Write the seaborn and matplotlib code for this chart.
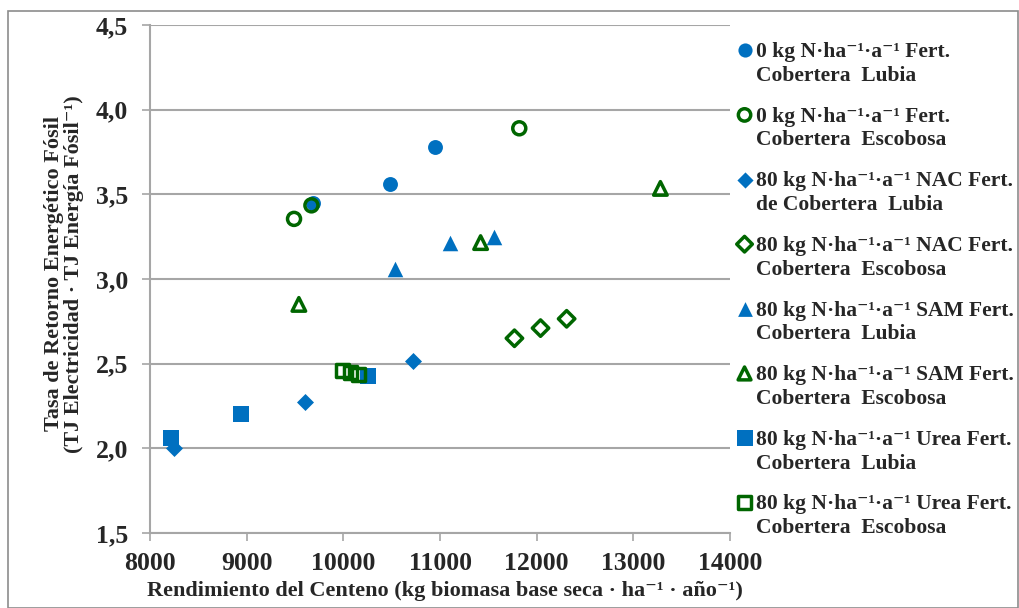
import matplotlib
matplotlib.use("Agg")
import matplotlib.pyplot as plt
import matplotlib.ticker as mticker
from matplotlib.patches import Rectangle
from matplotlib.collections import PathCollection
from matplotlib.legend_handler import HandlerPathCollection
import seaborn as sns
import pandas as pd

# data
x_0_lubia = [9690, 10480, 10950]
y_0_lubia = [3.45, 3.56, 3.78]
x_0_esco = [9490, 9670, 11820]
y_0_esco = [3.355, 3.435, 3.89]
x_nac_lubia = [8250, 9600, 10720]
y_nac_lubia = [2.00, 2.275, 2.515]
x_nac_esco = [11770, 12040, 12310]
y_nac_esco = [2.65, 2.71, 2.765]
x_sam_lubia = [10530, 11100, 11560]
y_sam_lubia = [3.06, 3.21, 3.25]
x_sam_esco = [9540, 11420, 13280]
y_sam_esco = [2.85, 3.215, 3.535]
x_urea_lubia = [8220, 8940, 10260]
y_urea_lubia = [2.06, 2.20, 2.43]
x_urea_esco = [9990, 10070, 10160]
y_urea_esco = [2.46, 2.45, 2.435]

labels = [
    "0 kg N·ha⁻¹·a⁻¹ Fert.\nCobertera  Lubia",
    "0 kg N·ha⁻¹·a⁻¹ Fert.\nCobertera  Escobosa",
    "80 kg N·ha⁻¹·a⁻¹ NAC Fert.\nde Cobertera  Lubia",
    "80 kg N·ha⁻¹·a⁻¹ NAC Fert.\nCobertera  Escobosa",
    "80 kg N·ha⁻¹·a⁻¹ SAM Fert.\nCobertera  Lubia",
    "80 kg N·ha⁻¹·a⁻¹ SAM Fert.\nCobertera  Escobosa",
    "80 kg N·ha⁻¹·a⁻¹ Urea Fert.\nCobertera  Lubia",
    "80 kg N·ha⁻¹·a⁻¹ Urea Fert.\nCobertera  Escobosa",
]
xs = [x_0_lubia, x_0_esco, x_nac_lubia, x_nac_esco,
      x_sam_lubia, x_sam_esco, x_urea_lubia, x_urea_esco]
ys = [y_0_lubia, y_0_esco, y_nac_lubia, y_nac_esco,
      y_sam_lubia, y_sam_esco, y_urea_lubia, y_urea_esco]

rows = []
for lab, xv, yv in zip(labels, xs, ys):
    for a, b in zip(xv, yv):
        rows.append({"serie": lab, "x": a, "y": b})
df = pd.DataFrame(rows)

blue = "#0070C0"
green = "#006600"
# marker, filled?, size
styles = [("o", True, 115), ("o", False, 88), ("D", True, 75), ("D", False, 70),
          ("^", True, 125), ("^", False, 95), ("s", True, 130), ("s", False, 90)]

sns.set_theme(style="white")
plt.rcParams['font.family'] = ['Liberation Serif', 'DejaVu Serif']
plt.rcParams['font.weight'] = 'bold'

fig = plt.figure(figsize=(10.2, 6.08), dpi=100)
ax = fig.add_axes([150 / 1020, 1 - 533 / 608, 580 / 1020, 508 / 608])

for lab, (mk, filled, s) in zip(labels, styles):
    sub = df[df["serie"] == lab]
    if filled:
        sns.scatterplot(data=sub, x="x", y="y", ax=ax, marker=mk, s=s, color=blue,
                        edgecolor=blue, linewidth=0, label=lab, zorder=3)
    else:
        sns.scatterplot(data=sub, x="x", y="y", ax=ax, marker=mk, s=s, color=green,
                        facecolor="none", edgecolor=green, linewidth=2.5, label=lab, zorder=3)

ax.set_xlim(8000, 14000)
ax.set_ylim(1.5, 4.5)
ax.set_xticks(range(8000, 14001, 1000))
ax.set_yticks([1.5, 2.0, 2.5, 3.0, 3.5, 4.0, 4.5])
ax.yaxis.set_major_formatter(mticker.FuncFormatter(lambda v, p: f"{v:.1f}".replace(".", ",")))
ax.grid(axis="y", color="#A6A6A6", linewidth=1.5)
ax.grid(axis="x", visible=False)
for side in ["top", "right"]:
    ax.spines[side].set_visible(False)
for side in ["left", "bottom"]:
    ax.spines[side].set_color("#A6A6A6")
    ax.spines[side].set_linewidth(1.5)
ax.tick_params(axis="both", which="major", direction="out", length=6, width=1.2,
               color="#A6A6A6", labelsize=18.5, left=True, bottom=True)
ax.tick_params(axis="y", pad=10)
ax.tick_params(axis="x", pad=8)
for t in ax.get_xticklabels() + ax.get_yticklabels():
    t.set_fontweight("bold")

ax.set_xlabel("Rendimiento del Centeno (kg biomasa base seca · ha⁻¹ · año⁻¹)",
              fontsize=16, fontweight="bold")
ax.xaxis.set_label_coords(0.508, -0.095)
ax.set_ylabel("Tasa de Retorno Energético Fósil\n(TJ Electricidad · TJ Energía Fósil⁻¹)",
              fontsize=16, fontweight="bold", linespacing=1.0)
ax.yaxis.set_label_coords(-0.114, 0.51)

leg = ax.legend(loc="upper left", bbox_to_anchor=(737 / 1020, 1 - 42 / 608),
                bbox_transform=fig.transFigure, frameon=False, fontsize=15.5,
                handletextpad=0.2, handlelength=0.7, labelspacing=0.97,
                borderpad=0, borderaxespad=0, markerscale=0.95,
                handler_map={PathCollection: HandlerPathCollection(yoffsets=[1.4])})
for t in leg.get_texts():
    t.set_fontweight("bold")
    t.set_linespacing(1.25)

fig.patches.append(Rectangle((8 / 1020, 0), 1010 / 1020, 1 - 11 / 608, transform=fig.transFigure,
                             fill=False, edgecolor="#8C8C8C", linewidth=1.2))

fig.savefig("out.png", dpi=100)
